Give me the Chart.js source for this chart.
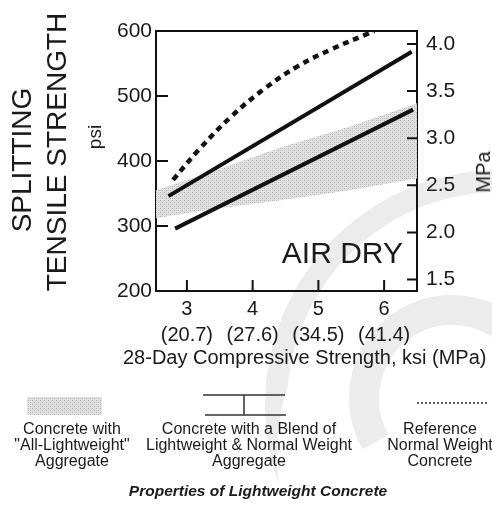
<!DOCTYPE html>
<html>
<head>
<meta charset="utf-8">
<script src="https://cdn.jsdelivr.net/npm/chart.js@4.4.1/dist/chart.umd.min.js"></script>
<style>
  html, body { margin: 0; padding: 0; background: #fff; }
  #wrap { position: relative; width: 492px; height: 510px; overflow: hidden;
          font-family: "Liberation Sans", Arial, sans-serif; color: #1a1a1a; }
  #chart { position: absolute; left: 0; top: 0; }
  .lbl { position: absolute; white-space: nowrap; }
  .rot { transform: translate(-50%, -50%) rotate(-90deg); line-height: 1; }
  .leg { position: absolute; text-align: center; font-size: 16px; line-height: 16px;
         transform: translateX(-50%); white-space: nowrap; }
</style>
</head>
<body>
<div id="wrap">
  <canvas id="chart" width="492" height="510"></canvas>
  <div class="lbl rot" style="left:22px;top:160px;font-size:28px;">SPLITTING</div>
  <div class="lbl rot" style="left:57px;top:152px;font-size:28px;">TENSILE STRENGTH</div>
  <div class="lbl rot" style="left:94px;top:137px;font-size:19px;">psi</div>
  <div class="lbl rot" style="left:483px;top:172px;font-size:20px;">MPa</div>
  <div class="lbl" style="right:89px;top:238px;font-size:30px;line-height:30px;">AIR DRY</div>
  <div class="lbl" style="left:123px;top:345px;font-size:20px;line-height:24px;">28-Day Compressive Strength, ksi (MPa)</div>
  <div class="leg" style="left:72px;top:421px;">Concrete with<br>"All-Lightweight"<br>Aggregate</div>
  <div class="leg" style="left:249px;top:421px;">Concrete with a Blend of<br>Lightweight &amp; Normal Weight<br>Aggregate</div>
  <div class="leg" style="left:440px;top:421px;">Reference<br>Normal Weight<br>Concrete</div>
  <div class="leg" style="left:258px;top:483px;font-size:15.5px;font-weight:bold;font-style:italic;">Properties of Lightweight Concrete</div>
</div>
<script>
// axis ticks
const xTicks = [3, 4, 5, 6];
const xTickMPa = ['(20.7)', '(27.6)', '(34.5)', '(41.4)'];
const yTicksPsi = [200, 300, 400, 500, 600];
const yTicksMPa = [1.5, 2.0, 2.5, 3.0, 3.5, 4.0];
const PSI_PER_MPA = 145.038;

// reference normal weight concrete (dotted curve)
const refKsi = [2.79, 3.17, 3.68, 4.19, 4.69, 5.20, 5.71, 5.85];
const refPsi = [371, 416, 469, 512, 546, 572, 594, 600];

// blend of lightweight & normal weight (two solid lines)
const blendHighKsi = [2.72, 6.42];
const blendHighPsi = [346, 568];
const blendLowKsi = [2.82, 6.44];
const blendLowPsi = [296, 479];

// all-lightweight band
const bandKsi = [2.53, 3.45, 4.46, 5.48, 6.5];
const bandLowPsi = [312, 327, 340, 355, 373];
const bandHighPsi = [355, 386, 422, 453, 489];

const pts = (xs, ys) => xs.map((x, i) => ({ x: x, y: ys[i] }));

function makeStipple() {
  const c = document.createElement('canvas');
  c.width = 4; c.height = 4;
  const g = c.getContext('2d');
  g.fillStyle = '#e2e2e2'; g.fillRect(0, 0, 4, 4);
  g.fillStyle = '#b4b4b4'; g.fillRect(0, 0, 1, 1); g.fillRect(2, 2, 1, 1);
  g.fillStyle = '#cacaca'; g.fillRect(2, 0, 1, 1); g.fillRect(0, 2, 1, 1);
  return g.createPattern(c, 'repeat');
}
const stipple = makeStipple();

// faint logo watermark behind the chart
const watermark = {
  id: 'watermark',
  beforeDraw(chart) {
    const ctx = chart.ctx;
    ctx.save();
    ctx.fillStyle = '#ececec';
    const cx = 500, cy = 405, r = 235;
    ctx.beginPath();
    const a0 = 160, a1 = 300;
    for (let a = a0; a <= a1; a += 2) {
      const t = a * Math.PI / 180;
      ctx.lineTo(cx + r * Math.cos(t), cy + r * Math.sin(t));
    }
    for (let a = a1; a >= a0; a -= 2) {
      const t = a * Math.PI / 180;
      const w = 22 * Math.min(1, (a - a0) / 25);
      ctx.lineTo(cx + (r - w) * Math.cos(t), cy + (r - w) * Math.sin(t));
    }
    ctx.closePath();
    ctx.fill();
    ctx.strokeStyle = '#ececec';
    ctx.lineWidth = 30;
    ctx.beginPath();
    ctx.arc(452, 398, 88, 150 * Math.PI / 180, 380 * Math.PI / 180);
    ctx.stroke();
    ctx.restore();
  }
};

// inward tick marks, top border, legend keys
const frame = {
  id: 'frame',
  afterDraw(chart) {
    const { ctx, chartArea: a, scales } = chart;
    ctx.save();
    ctx.strokeStyle = '#111';
    ctx.lineWidth = 2;
    ctx.beginPath();
    ctx.moveTo(a.left, a.top); ctx.lineTo(a.right, a.top);
    scales.x.ticks.forEach(t => {
      const p = scales.x.getPixelForValue(t.value);
      ctx.moveTo(p, a.bottom); ctx.lineTo(p, a.bottom - 11);
    });
    scales.y.ticks.forEach(t => {
      const p = scales.y.getPixelForValue(t.value);
      ctx.moveTo(a.left, p); ctx.lineTo(a.left + 12, p);
    });
    scales.y1.ticks.forEach(t => {
      const p = scales.y1.getPixelForValue(t.value);
      ctx.moveTo(a.right, p); ctx.lineTo(a.right - 10, p);
    });
    ctx.stroke();

    // legend keys
    ctx.fillStyle = stipple;
    ctx.fillRect(27, 397, 75, 18);
    ctx.lineWidth = 1.5;
    ctx.strokeStyle = '#333';
    ctx.beginPath();
    ctx.moveTo(203, 395); ctx.lineTo(285, 395);
    ctx.moveTo(205, 415); ctx.lineTo(286, 415);
    ctx.moveTo(244, 395); ctx.lineTo(244, 415);
    ctx.stroke();
    ctx.setLineDash([2, 2]);
    ctx.beginPath();
    ctx.moveTo(417, 403); ctx.lineTo(488, 403);
    ctx.stroke();
    ctx.restore();
  }
};

Chart.defaults.font.family = '"Liberation Sans", Arial, sans-serif';
Chart.defaults.color = '#1a1a1a';

new Chart(document.getElementById('chart'), {
  type: 'line',
  data: {
    datasets: [
      {
        data: pts(refKsi, refPsi),
        borderColor: '#111', borderWidth: 4.5, borderDash: [6, 5],
        tension: 0.4, pointRadius: 0, fill: false
      },
      {
        data: pts(blendHighKsi, blendHighPsi),
        borderColor: '#111', borderWidth: 4, pointRadius: 0, fill: false
      },
      {
        data: pts(blendLowKsi, blendLowPsi),
        borderColor: '#111', borderWidth: 4, pointRadius: 0, fill: false
      },
      {
        data: pts(bandKsi, bandLowPsi),
        borderWidth: 0, borderColor: 'rgba(0,0,0,0)', pointRadius: 0, fill: false
      },
      {
        data: pts(bandKsi, bandHighPsi),
        borderWidth: 0, borderColor: 'rgba(0,0,0,0)', pointRadius: 0,
        backgroundColor: stipple, fill: '-1'
      }
    ]
  },
  options: {
    responsive: false,
    animation: false,
    layout: { padding: { top: 31, left: 0, right: 0, bottom: 0 } },
    plugins: { legend: { display: false }, tooltip: { enabled: false } },
    scales: {
      x: {
        type: 'linear', position: 'bottom', min: 2.53, max: 6.5,
        afterBuildTicks: s => { s.ticks = xTicks.map(v => ({ value: v })); },
        afterFit: s => { s.height = 219; },
        grid: { display: false, drawTicks: false },
        border: { display: true, color: '#111', width: 2 },
        ticks: {
          autoSkip: false, maxRotation: 0, padding: 5,
          font: { size: 20, lineHeight: 1.3 },
          callback: v => [String(v), xTickMPa[xTicks.indexOf(v)]]
        }
      },
      y: {
        type: 'linear', position: 'left', min: 200, max: 600,
        afterBuildTicks: s => { s.ticks = yTicksPsi.map(v => ({ value: v })); },
        afterFit: s => { s.width = 156; },
        grid: { display: false, drawTicks: false },
        border: { display: true, color: '#111', width: 2 },
        ticks: { padding: 4, font: { size: 21 } }
      },
      y1: {
        type: 'linear', position: 'right',
        min: 200 / PSI_PER_MPA, max: 600 / PSI_PER_MPA,
        afterBuildTicks: s => { s.ticks = yTicksMPa.map(v => ({ value: v })); },
        afterFit: s => { s.width = 75; },
        grid: { display: false, drawTicks: false },
        border: { display: true, color: '#111', width: 2 },
        ticks: { padding: 9, font: { size: 21 }, callback: v => v.toFixed(1) }
      }
    }
  },
  plugins: [watermark, frame]
});
</script>
</body>
</html>
